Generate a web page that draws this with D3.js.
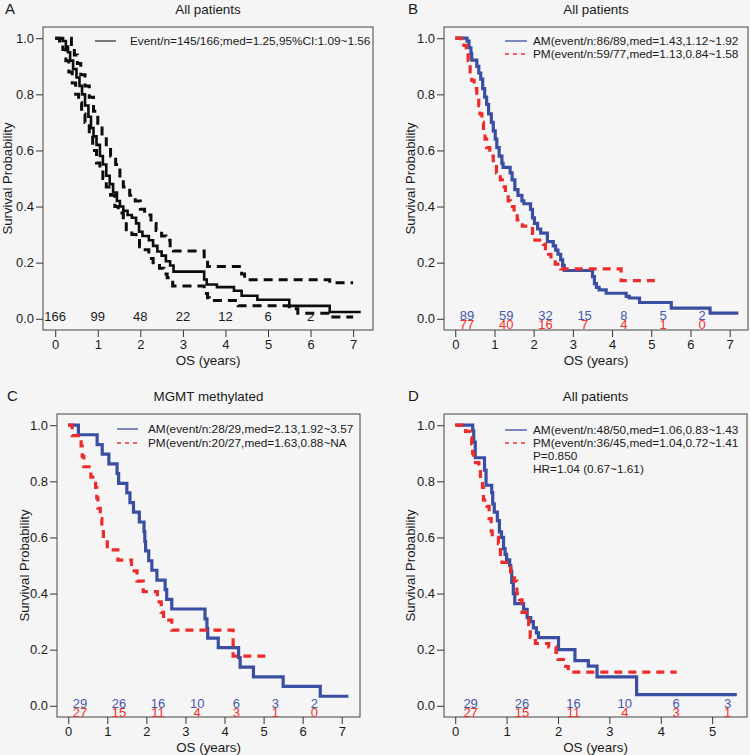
<!DOCTYPE html>
<html><head><meta charset="utf-8">
<script src="https://cdn.jsdelivr.net/npm/d3@7"></script>
<style>
body{margin:0;background:#f5f5f5;}
text{font-family:"Liberation Sans",Arial,Helvetica,sans-serif;fill:#1a1a1a}
</style>
</head><body>
<svg id="c" width="750" height="755"></svg>
<script>
// ---------------- DATA ----------------
// Panel A: all patients, KM estimate with 95% CI  [time (years), survival]
const A_km = [[0,1],[0.12,1],[0.18,0.99],[0.25,0.97],[0.3,0.95],[0.35,0.92],[0.42,0.89],[0.5,0.86],[0.57,0.83],[0.63,0.80],[0.7,0.76],[0.78,0.72],[0.84,0.68],[0.9,0.65],[0.97,0.62],[1.05,0.58],[1.12,0.55],[1.2,0.51],[1.28,0.48],[1.36,0.45],[1.45,0.42],[1.52,0.40],[1.6,0.385],[1.7,0.37],[1.8,0.36],[1.9,0.34],[1.97,0.31],[2.05,0.295],[2.2,0.28],[2.3,0.26],[2.4,0.24],[2.5,0.225],[2.6,0.205],[2.7,0.19],[2.78,0.168],[3.5,0.14],[3.56,0.122],[3.8,0.113],[4.2,0.1],[4.38,0.082],[4.75,0.068],[5.5,0.046],[6.45,0.024],[7.18,0.024]];
const A_upper = [[0,1],[0.3,1],[0.38,0.97],[0.45,0.94],[0.52,0.91],[0.6,0.87],[0.7,0.83],[0.8,0.79],[0.9,0.74],[1.0,0.69],[1.1,0.65],[1.2,0.61],[1.3,0.58],[1.42,0.55],[1.52,0.50],[1.6,0.47],[1.75,0.44],[1.88,0.42],[2.0,0.39],[2.1,0.37],[2.25,0.34],[2.37,0.315],[2.5,0.295],[2.6,0.28],[2.7,0.26],[2.78,0.242],[3.5,0.21],[3.58,0.186],[4.38,0.16],[4.45,0.139],[6.45,0.128],[7.0,0.128]];
const A_lower = [[0,1],[0.1,0.99],[0.18,0.96],[0.25,0.92],[0.32,0.88],[0.4,0.84],[0.48,0.80],[0.55,0.77],[0.62,0.73],[0.7,0.70],[0.8,0.66],[0.88,0.60],[0.97,0.555],[1.05,0.53],[1.12,0.50],[1.2,0.47],[1.3,0.44],[1.4,0.40],[1.48,0.377],[1.6,0.345],[1.67,0.317],[1.8,0.30],[1.9,0.288],[1.98,0.257],[2.06,0.246],[2.2,0.215],[2.3,0.2],[2.45,0.18],[2.55,0.16],[2.63,0.146],[2.76,0.117],[3.5,0.09],[3.58,0.075],[3.62,0.065],[4.3,0.046],[5.5,0.036],[5.7,0.02],[6.45,0.006],[7.0,0.006]];
const A_risk = [166, 99, 48, 22, 12, 6, 2];

// Panel B: all patients, AM vs PM
const B_AM = [[0,1],[0.3,0.99],[0.35,0.966],[0.4,0.944],[0.42,0.922],[0.55,0.9],[0.6,0.876],[0.65,0.854],[0.7,0.82],[0.75,0.79],[0.8,0.764],[0.85,0.73],[0.92,0.7],[0.97,0.67],[1.02,0.64],[1.06,0.61],[1.12,0.58],[1.19,0.554],[1.22,0.54],[1.4,0.52],[1.45,0.495],[1.52,0.46],[1.6,0.44],[1.7,0.42],[1.75,0.41],[1.92,0.39],[1.97,0.36],[2.02,0.34],[2.1,0.32],[2.18,0.305],[2.35,0.275],[2.5,0.26],[2.56,0.245],[2.62,0.23],[2.69,0.21],[2.74,0.19],[2.78,0.172],[3.5,0.15],[3.55,0.125],[3.6,0.112],[3.67,0.103],[3.85,0.091],[4.36,0.08],[4.44,0.074],[4.7,0.058],[5.51,0.038],[6.5,0.02],[7.22,0.02]];
const B_PM = [[0,1],[0.15,0.987],[0.22,0.974],[0.28,0.96],[0.33,0.92],[0.38,0.88],[0.42,0.85],[0.48,0.82],[0.55,0.79],[0.6,0.76],[0.63,0.73],[0.68,0.70],[0.72,0.67],[0.76,0.64],[0.8,0.61],[0.88,0.58],[0.97,0.554],[1.05,0.52],[1.15,0.495],[1.2,0.47],[1.28,0.45],[1.35,0.42],[1.41,0.40],[1.5,0.376],[1.58,0.352],[1.71,0.33],[1.97,0.28],[2.25,0.265],[2.3,0.25],[2.38,0.23],[2.44,0.21],[2.55,0.195],[2.69,0.178],[4.23,0.136],[5.17,0.136]];
const B_riskAM = [89, 59, 32, 15, 8, 5, 2];
const B_riskPM = [77, 40, 16, 7, 4, 1, 0];

// Panel C: MGMT methylated
const C_AM = [[0,1],[0.26,0.966],[0.74,0.931],[0.87,0.897],[1.04,0.862],[1.25,0.828],[1.29,0.793],[1.5,0.759],[1.58,0.724],[1.67,0.69],[1.82,0.655],[1.94,0.621],[1.96,0.586],[1.98,0.552],[2.06,0.517],[2.14,0.483],[2.27,0.448],[2.48,0.414],[2.52,0.379],[2.65,0.345],[3.5,0.31],[3.55,0.276],[3.57,0.241],[3.84,0.207],[4.36,0.172],[4.4,0.138],[4.74,0.103],[5.5,0.069],[6.45,0.034],[7.17,0.034]];
const C_PM = [[0,1],[0.1,0.963],[0.33,0.926],[0.36,0.889],[0.4,0.852],[0.58,0.815],[0.7,0.778],[0.73,0.741],[0.76,0.704],[0.82,0.667],[0.86,0.63],[0.9,0.593],[1.0,0.556],[1.27,0.519],[1.62,0.481],[1.76,0.444],[1.92,0.407],[2.28,0.37],[2.38,0.333],[2.44,0.305],[2.65,0.27],[4.22,0.177],[5.17,0.177]];
const C_riskAM = [29, 26, 16, 10, 6, 3, 2];
const C_riskPM = [27, 15, 11, 4, 3, 1, 0];

// Panel D: all patients (second cohort)
const D_AM = [[0,1],[0.34,0.98],[0.36,0.94],[0.39,0.884],[0.57,0.84],[0.6,0.786],[0.71,0.76],[0.73,0.72],[0.76,0.69],[0.82,0.66],[0.86,0.62],[0.9,0.6],[0.94,0.56],[0.97,0.54],[1.0,0.52],[1.06,0.5],[1.08,0.48],[1.1,0.44],[1.13,0.40],[1.16,0.364],[1.33,0.344],[1.4,0.314],[1.47,0.30],[1.52,0.278],[1.58,0.26],[1.62,0.243],[2.01,0.2],[2.33,0.161],[2.59,0.141],[2.76,0.103],[3.53,0.04],[5.48,0.04]];
const D_PM = [[0,1],[0.2,0.978],[0.3,0.956],[0.32,0.933],[0.34,0.9],[0.36,0.867],[0.46,0.844],[0.49,0.8],[0.53,0.778],[0.55,0.733],[0.62,0.711],[0.66,0.667],[0.7,0.622],[0.72,0.6],[0.84,0.578],[0.88,0.533],[0.91,0.511],[1.08,0.467],[1.15,0.444],[1.2,0.4],[1.25,0.378],[1.3,0.333],[1.38,0.311],[1.43,0.289],[1.46,0.244],[1.56,0.222],[1.82,0.21],[1.96,0.19],[2.0,0.165],[2.15,0.14],[2.2,0.12],[4.31,0.12]];
const D_riskAM = [29, 26, 16, 10, 6, 3];
const D_riskPM = [27, 15, 11, 4, 3, 1];

// Tick labels / texts
const yTicks = [0, 0.2, 0.4, 0.6, 0.8, 1.0];
const xTicks7 = [0, 1, 2, 3, 4, 5, 6, 7];
const xTicks5 = [0, 1, 2, 3, 4, 5];
const A_legend = ["Event/n=145/166;med=1.25,95%CI:1.09~1.56"];
const B_legend = ["AM(event/n:86/89,med=1.43,1.12~1.92", "PM(event/n:59/77,med=1.13,0.84~1.58"];
const C_legend = ["AM(event/n:28/29,med=2.13,1.92~3.57", "PM(event/n:20/27,med=1.63,0.88~NA"];
const D_legend = ["AM(event/n:48/50,med=1.06,0.83~1.43", "PM(event/n:36/45,med=1.04,0.72~1.41"];
const D_stats = ["P=0.850", "HR=1.04 (0.67~1.61)"];

// ---------------- DRAWING ----------------
const BLUE = "#3a4ea2", RED = "#ee2b2b", BLACK = "#0d0d0d";
const BLUE_T = "#4558aa", RED_T = "#f0302a";
const svg = d3.select("#c");

function panel(o) {
  const g = svg.append("g");
  const x = d3.scaleLinear().domain([-0.04 * o.xmax, 1.04 * o.xmax]).range([o.l, o.r]);
  const y = d3.scaleLinear().domain([-0.04, 1.04]).range([o.b, o.t]);

  // axes
  const ya = g.append("g").attr("transform", `translate(${o.l},0)`)
    .call(d3.axisLeft(y).tickValues(yTicks).tickFormat(d3.format(".1f")).tickSize(7).tickPadding(2));
  const xa = g.append("g").attr("transform", `translate(0,${o.b})`)
    .call(d3.axisBottom(x).tickValues(o.xticks).tickFormat(d3.format("d")).tickSize(7).tickPadding(3));
  [ya, xa].forEach(a => {
    a.select(".domain").remove();
    a.selectAll("line").attr("stroke", "#333");
    a.selectAll("text").style("font-size", "13px").attr("fill", "#1a1a1a");
  });
  // box
  g.append("rect").attr("x", o.l).attr("y", o.t).attr("width", o.r - o.l).attr("height", o.b - o.t)
    .attr("fill", "none").attr("stroke", "#444").attr("stroke-width", 1);

  // titles
  g.append("text").attr("x", (o.l + o.r) / 2).attr("y", o.t - 13).attr("text-anchor", "middle")
    .style("font-size", "13.4px").text(o.title);
  g.append("text").attr("x", o.letterX).attr("y", o.t - 13).style("font-size", "15px").text(o.letter);
  g.append("text").attr("x", (o.l + o.r) / 2).attr("y", o.b + 35).attr("text-anchor", "middle")
    .style("font-size", "13.4px").text("OS (years)");
  g.append("text").attr("transform", `translate(${o.ylabX},${(o.t + o.b) / 2}) rotate(-90)`)
    .attr("text-anchor", "middle").style("font-size", "13.2px").text("Survival Probability");

  // curves
  const line = d3.line().curve(d3.curveStepAfter).x(d => x(d[0])).y(d => y(d[1]));
  o.curves.forEach(c => {
    g.append("path").datum(c.data).attr("d", line).attr("fill", "none")
      .attr("stroke", c.color).attr("stroke-width", c.width)
      .attr("stroke-dasharray", c.dash || null).attr("stroke-linejoin", "miter");
  });

  // risk numbers
  o.risk.forEach(r => {
    g.selectAll(null).data(r.values).enter().append("text")
      .attr("x", (d, i) => x(i + o.riskOff)).attr("y", y(0) + r.dy)
      .attr("text-anchor", "middle").style("font-size", "13px").attr("fill", r.color)
      .style("fill", r.color).text(d => d);
  });

  // legend
  o.legend.forEach(lg => {
    if (lg.color) {
      g.append("line").attr("x1", o.l + lg.x1).attr("x2", o.l + lg.x2)
        .attr("y1", o.t + lg.ly).attr("y2", o.t + lg.ly)
        .attr("stroke", lg.color).attr("stroke-width", 1.3).attr("stroke-dasharray", lg.dash || null);
    }
    g.append("text").attr("x", o.l + lg.tx).attr("y", o.t + lg.ty)
      .style("font-size", "11.8px").text(lg.text);
  });
}

panel({
  l: 43, r: 373, t: 27, b: 330, xmax: 7.18, xticks: xTicks7,
  title: "All patients", letter: "A", letterX: 5, ylabX: 12, riskOff: 0,
  curves: [
    {data: A_upper, color: BLACK, width: 3, dash: "9,6"},
    {data: A_lower, color: BLACK, width: 3, dash: "9,6"},
    {data: A_km, color: BLACK, width: 2.6}
  ],
  risk: [{values: A_risk, color: "#1a1a1a", dy: 2}],
  legend: [{x1: 52, x2: 73, ly: 14, tx: 87, ty: 18, color: "#333", text: A_legend[0]}]
});

panel({
  l: 444, r: 748, t: 27, b: 330, xmax: 7.18, xticks: xTicks7,
  title: "All patients", letter: "B", letterX: 408, ylabX: 415, riskOff: 0.3,
  curves: [
    {data: B_AM, color: BLUE, width: 3.2},
    {data: B_PM, color: RED, width: 3.2, dash: "8,6"}
  ],
  risk: [{values: B_riskAM, color: BLUE_T, dy: 1}, {values: B_riskPM, color: RED_T, dy: 10}],
  legend: [
    {x1: 61, x2: 83, ly: 14, tx: 89, ty: 18, color: BLUE, text: B_legend[0]},
    {x1: 61, x2: 83, ly: 27, tx: 89, ty: 31, color: RED, dash: "4,4", text: B_legend[1]}
  ]
});

panel({
  l: 57, r: 360, t: 414, b: 717, xmax: 7.18, xticks: xTicks7,
  title: "MGMT methylated", letter: "C", letterX: 7, ylabX: 29, riskOff: 0.3,
  curves: [
    {data: C_AM, color: BLUE, width: 3.2},
    {data: C_PM, color: RED, width: 3.2, dash: "8,6"}
  ],
  risk: [{values: C_riskAM, color: BLUE_T, dy: 2}, {values: C_riskPM, color: RED_T, dy: 11}],
  legend: [
    {x1: 60, x2: 81, ly: 15, tx: 91, ty: 19, color: BLUE, text: C_legend[0]},
    {x1: 60, x2: 81, ly: 29, tx: 91, ty: 33, color: RED, dash: "4,4", text: C_legend[1]}
  ]
});

panel({
  l: 444, r: 747, t: 414, b: 717, xmax: 5.46, xticks: xTicks5,
  title: "All patients", letter: "D", letterX: 408, ylabX: 415, riskOff: 0.3,
  curves: [
    {data: D_AM, color: BLUE, width: 3.2},
    {data: D_PM, color: RED, width: 3.2, dash: "8,6"}
  ],
  risk: [{values: D_riskAM, color: BLUE_T, dy: 2}, {values: D_riskPM, color: RED_T, dy: 11}],
  legend: [
    {x1: 61, x2: 83, ly: 16, tx: 89, ty: 20, color: BLUE, text: D_legend[0]},
    {x1: 61, x2: 83, ly: 29, tx: 89, ty: 33, color: RED, dash: "4,4", text: D_legend[1]},
    {tx: 89, ty: 46, text: D_stats[0]},
    {tx: 89, ty: 59, text: D_stats[1]}
  ]
});
</script>
</body></html>
